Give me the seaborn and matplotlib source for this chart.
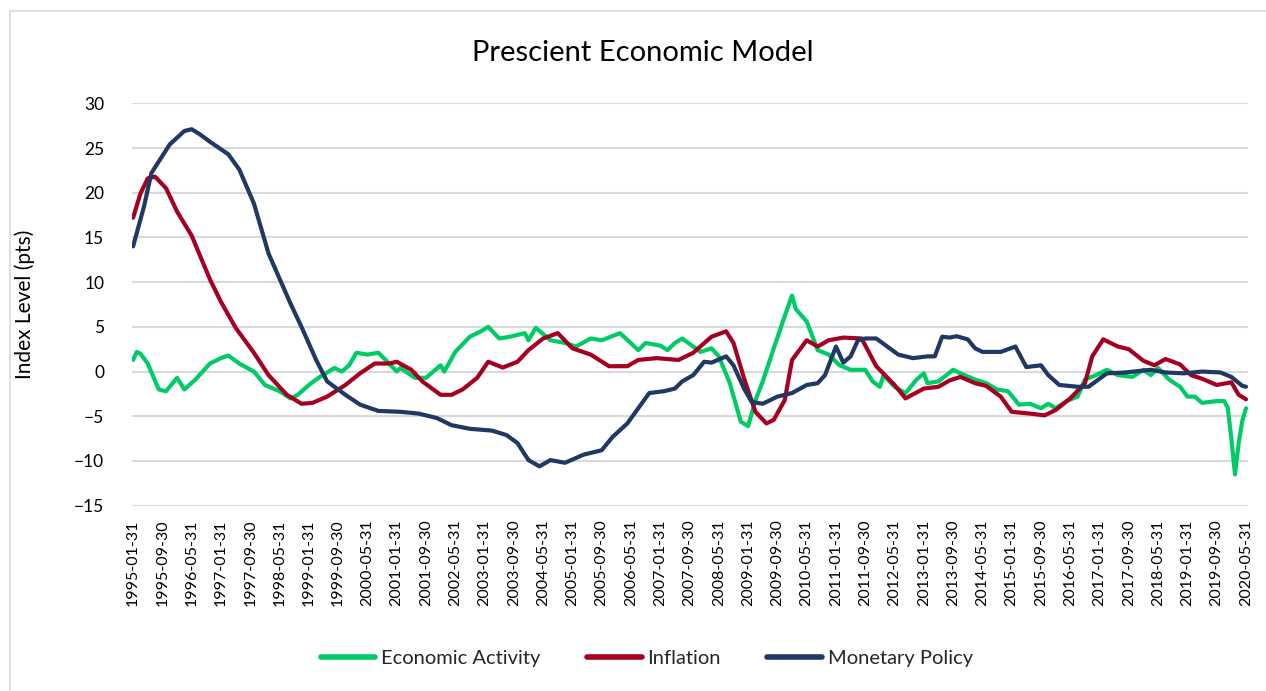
import numpy as np
import pandas as pd
import matplotlib
matplotlib.use("Agg")
import matplotlib.pyplot as plt
from matplotlib.patches import Rectangle
import seaborn as sns

# month index = months since 1995-01-31
activity_months = [0, 1, 2, 4, 7, 9, 12, 14, 17, 21, 24, 26, 29, 33, 36, 40, 43, 45, 48, 51,
                   55, 57, 59, 61, 64, 67, 69, 72, 73, 77, 80, 84, 85, 88, 92, 95, 97, 100, 103, 107,
                   108, 110, 114, 118, 121, 125, 128, 133, 138, 140, 144, 146, 148, 150, 153, 155, 158, 160, 163, 166,
                   168, 170, 172, 175, 178, 180, 181, 184, 187, 190, 193, 196, 200, 202, 204, 205, 208, 211, 214, 216,
                   217, 220, 224, 226, 230, 233, 236, 239, 242, 245, 248, 250, 252, 255, 258, 260, 263, 266, 269, 273,
                   276, 278, 280, 283, 286, 288, 290, 292, 296, 298, 299, 300, 301, 302, 303, 304]
activity_values = [1.3, 2.2, 2.0, 0.9, -2.0, -2.2, -0.7, -2.0, -0.9, 0.9, 1.5, 1.8, 0.9, 0.0, -1.5, -2.2, -3.0, -2.6, -1.5, -0.6,
                   0.4, 0.0, 0.7, 2.1, 1.9, 2.1, 1.3, 0.0, 0.4, -0.7, -0.7, 0.7, 0.0, 2.2, 3.9, 4.5, 5.0, 3.7, 3.9, 4.3,
                   3.5, 4.9, 3.5, 3.2, 2.8, 3.7, 3.5, 4.3, 2.4, 3.2, 2.9, 2.4, 3.2, 3.7, 2.8, 2.2, 2.6, 1.7, -1.3, -5.6,
                   -6.1, -3.2, -1.1, 2.6, 6.2, 8.5, 7.0, 5.6, 2.4, 1.9, 0.7, 0.2, 0.2, -1.1, -1.7, -0.4, -1.7, -2.4, -0.9, -0.2,
                   -1.3, -1.1, 0.2, -0.2, -0.9, -1.3, -2.0, -2.2, -3.7, -3.6, -4.1, -3.6, -4.1, -3.3, -2.8, -0.9, -0.4, 0.2, -0.4, -0.6,
                   0.2, -0.4, 0.4, -0.9, -1.7, -2.8, -2.8, -3.5, -3.3, -3.3, -4.0, -7.5, -11.5, -8.0, -5.5, -4.1]

inflation_months = [0, 2, 4, 6, 9, 12, 16, 21, 24, 28, 33, 37, 42, 46, 49, 53, 58, 62, 66, 70,
                    72, 76, 79, 84, 87, 90, 94, 97, 101, 105, 108, 112, 116, 120, 125, 130, 135, 138, 143, 149,
                    153, 158, 162, 164, 167, 170, 173, 175, 178, 180, 184, 187, 190, 194, 199, 203, 208, 211, 216, 220,
                    223, 226, 230, 233, 237, 240, 245, 249, 252, 256, 260, 262, 265, 269, 272, 276, 279, 282, 286, 289,
                    292, 296, 300, 302, 304]
inflation_values = [17.2, 19.9, 21.6, 21.8, 20.5, 17.9, 15.2, 10.3, 7.8, 4.9, 2.1, -0.4, -2.6, -3.6, -3.5, -2.8, -1.5, -0.2, 0.9, 0.9,
                    1.1, 0.2, -1.1, -2.6, -2.6, -2.0, -0.7, 1.1, 0.45, 1.1, 2.4, 3.7, 4.3, 2.6, 1.9, 0.6, 0.6, 1.3, 1.5, 1.3,
                    2.1, 3.9, 4.5, 3.2, -0.9, -4.5, -5.8, -5.4, -3.2, 1.3, 3.5, 2.8, 3.5, 3.8, 3.7, 0.6, -1.5, -3.0, -1.9, -1.7,
                    -1.0, -0.6, -1.3, -1.6, -2.8, -4.5, -4.7, -4.9, -4.3, -3.0, -1.3, 1.7, 3.6, 2.8, 2.5, 1.2, 0.7, 1.4, 0.8, -0.4,
                    -0.8, -1.5, -1.2, -2.6, -3.1]

policy_months = [0, 3, 5, 10, 14, 16, 18, 21, 26, 29, 33, 37, 43, 46, 50, 53, 58, 62, 67, 73,
                 78, 83, 87, 92, 98, 102, 105, 108, 111, 114, 118, 123, 128, 131, 135, 138, 141, 145, 148, 150,
                 153, 156, 158, 162, 164, 167, 169, 172, 176, 180, 184, 187, 189, 192, 194, 196, 198, 200, 203, 206,
                 209, 213, 217, 219, 221, 223, 225, 228, 230, 232, 237, 241, 244, 248, 250, 253, 258, 261, 266, 271,
                 278, 282, 287, 292, 297, 300, 303, 304]
policy_values = [14.0, 18.5, 22.2, 25.4, 26.9, 27.1, 26.6, 25.7, 24.3, 22.6, 18.8, 13.2, 7.6, 5.0, 1.3, -1.1, -2.6, -3.7, -4.4, -4.5,
                 -4.7, -5.2, -6.0, -6.4, -6.6, -7.1, -8.0, -9.9, -10.6, -9.9, -10.2, -9.3, -8.8, -7.3, -5.8, -4.1, -2.4, -2.2, -1.9, -1.1,
                 -0.4, 1.1, 1.0, 1.7, 0.7, -2.0, -3.4, -3.6, -2.8, -2.4, -1.5, -1.3, -0.4, 2.8, 1.0, 1.7, 3.5, 3.7, 3.7, 2.8,
                 1.9, 1.5, 1.7, 1.7, 3.9, 3.8, 3.95, 3.6, 2.6, 2.2, 2.2, 2.8, 0.5, 0.7, -0.4, -1.5, -1.7, -1.7, -0.2, -0.1,
                 0.2, -0.1, -0.2, 0.0, -0.1, -0.6, -1.6, -1.7]

tick_labels = ["1995-01-31", "1995-09-30", "1996-05-31", "1997-01-31", "1997-09-30", "1998-05-31",
               "1999-01-31", "1999-09-30", "2000-05-31", "2001-01-31", "2001-09-30", "2002-05-31",
               "2003-01-31", "2003-09-30", "2004-05-31", "2005-01-31", "2005-09-30", "2006-05-31",
               "2007-01-31", "2007-09-30", "2008-05-31", "2009-01-31", "2009-09-30", "2010-05-31",
               "2011-01-31", "2011-09-30", "2012-05-31", "2013-01-31", "2013-09-30", "2014-05-31",
               "2015-01-31", "2015-09-30", "2016-05-31", "2017-01-31", "2017-09-30", "2018-05-31",
               "2019-01-31", "2019-09-30", "2020-05-31"]

series_names = ["Economic Activity", "Inflation", "Monetary Policy"]
colors = ["#00CC66", "#A50021", "#1F3864"]

df = pd.concat([
    pd.DataFrame({"month": activity_months, "value": activity_values, "series": series_names[0]}),
    pd.DataFrame({"month": inflation_months, "value": inflation_values, "series": series_names[1]}),
    pd.DataFrame({"month": policy_months, "value": policy_values, "series": series_names[2]}),
], ignore_index=True)

sns.set_theme(style="white")
plt.rcParams["font.family"] = ["Lato", "DejaVu Sans"]

fig = plt.figure(figsize=(12.66, 6.91), dpi=100)
ax = fig.add_axes([132 / 1266, 1 - 505.7 / 691, 1116 / 1266, (505.7 - 103.3) / 691])

sns.lineplot(data=df, x="month", y="value", hue="series", hue_order=series_names,
             palette=colors, estimator=None, linewidth=3.0, ax=ax, legend=False, sort=True)

ax.set_xlim(-0.3, 304.55)
ax.set_ylim(-15, 30)
ax.set_yticks(np.arange(-15, 31, 5))
ax.set_xticks(np.arange(0, 8 * len(tick_labels), 8))
ax.set_xticklabels(tick_labels, rotation=90)
ax.tick_params(axis="x", labelsize=11.5, pad=10, length=0, colors="#000000")
ax.tick_params(axis="y", labelsize=12.5, pad=20, length=0, colors="#000000")
ax.grid(axis="y", color="#D9D9D9", linewidth=1.5)
ax.grid(axis="x", visible=False)
ax.set_axisbelow(True)
for s in ax.spines.values():
    s.set_visible(False)

ax.set_xlabel("")
ax.set_ylabel("Index Level (pts)", fontsize=15, color="#000000")
ax.yaxis.set_label_coords(-0.087, 0.5)

fig.text(643 / 1266, 1 - 53 / 691, "Prescient Economic Model", ha="center", va="center",
         fontsize=21, color="#000000")

handles = [plt.Line2D([], [], color=c, linewidth=4) for c in colors]
fig.legend(handles, series_names, loc="center", bbox_to_anchor=(647 / 1266, 1 - 658 / 691),
           ncol=3, frameon=False, fontsize=14.5, handlelength=2.7, handletextpad=0.3,
           columnspacing=2.3)

fig.add_artist(Rectangle((10 / 1266, -0.05), 1.1, 1 - 11 / 691 + 0.05, transform=fig.transFigure,
                         fill=False, edgecolor="#D9D9D9", linewidth=1.2))

fig.savefig("out.png", dpi=100)
